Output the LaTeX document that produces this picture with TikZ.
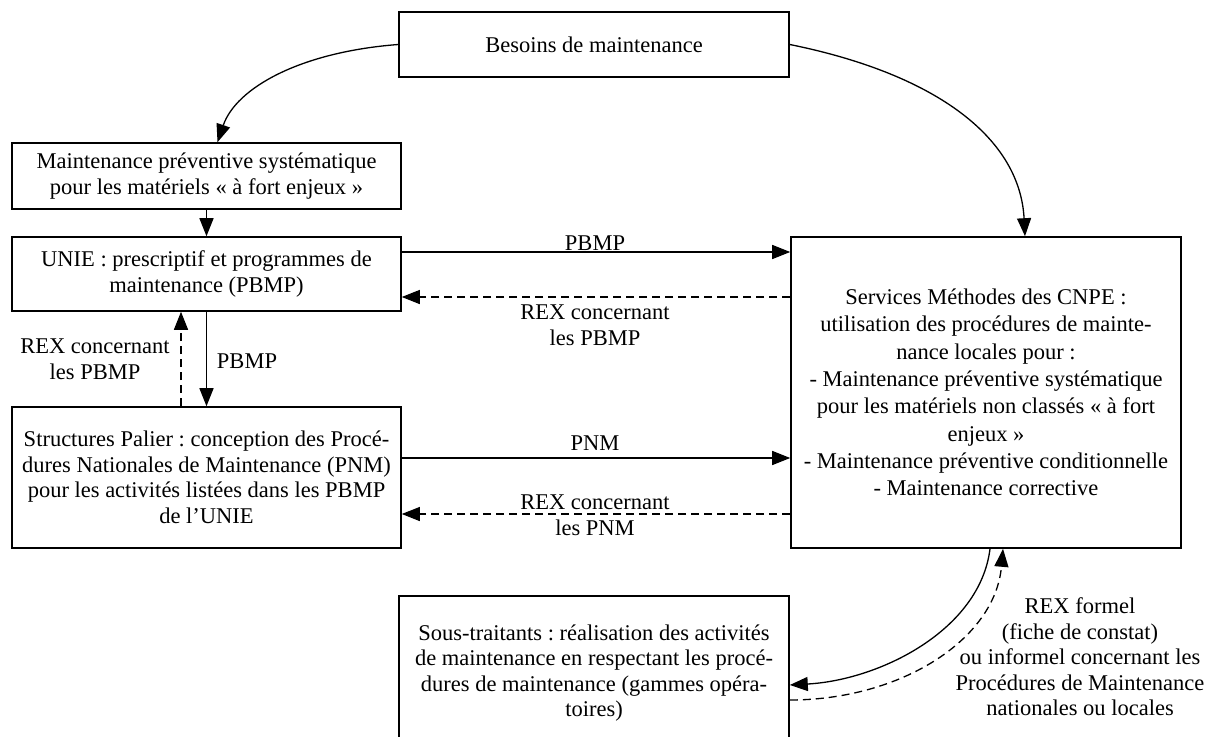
\documentclass[tikz,border=0pt]{standalone}
\usepackage{fontspec}
\setmainfont{Liberation Serif}
\usetikzlibrary{arrows.meta}
\frenchspacing

\begin{document}
\begin{tikzpicture}[x=1pt,y=-1pt,
    box/.style={draw,line width=1.6pt,inner sep=0pt,align=center,font=\fontsize{22.5}{25.5}\selectfont},
    lbl/.style={inner sep=0pt,align=center,font=\fontsize{22.5}{25.5}\selectfont},
    flow/.style={line width=1.3pt,-{Triangle[length=18pt,width=14pt]}},
    rex/.style={flow,dash pattern=on 8pt off 5pt}]
\useasboundingbox (0,0) rectangle (1212,736);
\node[box,minimum width=390pt,minimum height=65pt] (besoins) at (594,44.5) {Besoins de maintenance};
\node[box,minimum width=389pt,minimum height=66pt] (mpsys) at (206.5,176)
  {Maintenance préventive systématique\\pour les matériels «~à fort enjeux~»};
\node[box,minimum width=389pt,minimum height=74pt] (unie) at (206.5,274)
  {UNIE : prescriptif et programmes de\\maintenance (PBMP)};
\node[box,minimum width=389pt,minimum height=141pt] (palier) at (206.5,477.5)
  {Structures Palier : conception des Procé-\\dures Nationales de Maintenance (PNM)\\pour les activités listées dans les PBMP\\de l’UNIE};
\node[box,minimum width=390pt,minimum height=311pt,font=\fontsize{22.5}{27.3}\selectfont] (cnpe) at (986,392.5)
  {Services Méthodes des CNPE :\\utilisation des procédures de mainte-\\nance locales pour :\\- Maintenance préventive systématique\\pour les matériels non classés «~à fort\\enjeux~»\\- Maintenance préventive conditionnelle\\- Maintenance corrective};
\node[box,minimum width=390pt,minimum height=154pt] (soustr) at (594,673)
  {Sous-traitants : réalisation des activités\\de maintenance en respectant les procé-\\dures de maintenance (gammes opéra-\\toires)};
\node[lbl,anchor=base] (lpbmph) at (595,250) {PBMP};
\node[lbl] (lrexh) at (595,325) {REX concernant\\les PBMP};
\node[lbl] (lpbmpv) at (247,361) {PBMP};
\node[lbl] (lrexv) at (95,359) {REX concernant\\les PBMP};
\node[lbl,anchor=base] (lpnm) at (595,450.5) {PNM};
\node[lbl] (lrexp) at (595,515) {REX concernant\\les PNM};
\node[lbl] (lrexf) at (1080,657) {REX formel\\(fiche de constat)\\ou informel concernant les\\Procédures de Maintenance\\nationales ou locales};
\draw[flow] (besoins.west) .. controls (300,52) and (236,88) .. ([xshift=11pt]mpsys.north);
\draw[flow] (besoins.east) .. controls (940,75) and (1020,140) .. ([xshift=39pt]cnpe.north);
\draw[flow] (mpsys.south) -- (unie.north);
\draw[flow] ([yshift=22pt]unie.east) -- ([yshift=22pt]unie.east -| cnpe.west);
\draw[rex] ([yshift=-23pt]unie.east -| cnpe.west) -- ([yshift=-23pt]unie.east);
\draw[flow] (unie.south) -- (palier.north);
\draw[rex] ([xshift=-25.5pt]palier.north) -- ([xshift=-25.5pt]unie.south);
\draw[flow] ([yshift=19.5pt]palier.east) -- ([yshift=19.5pt]palier.east -| cnpe.west);
\draw[rex] ([yshift=-36.5pt]palier.east -| cnpe.west) -- ([yshift=-36.5pt]palier.east);
\draw[flow] ([xshift=4pt]cnpe.south) .. controls (980,630) and (880,680) .. ([yshift=-12pt]soustr.east);
\draw[rex] ([yshift=-27pt]soustr.east) .. controls (900,700) and (995,640) .. ([xshift=17pt]cnpe.south);
\end{tikzpicture}
\end{document}
